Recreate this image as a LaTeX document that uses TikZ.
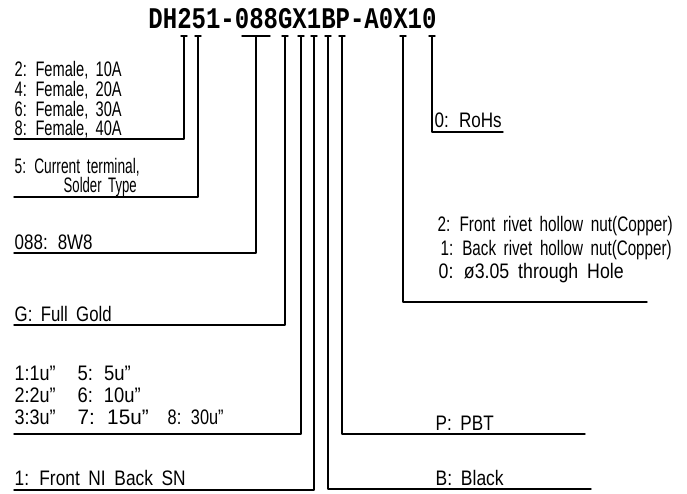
\documentclass[tikz,border=0pt]{standalone}
\usepackage{fontspec}
\usepackage{graphicx}
\newfontfamily\labelfont[FakeStretch=0.7,WordSpace=1.8]{Liberation Sans}
\newfontfamily\codefont[FakeStretch=0.8]{Liberation Mono}
% text squeezed to the width that the drawing shows
\newcommand\fitw[2]{\resizebox{#1pt}{\height}{#2}}
\begin{document}
\begin{tikzpicture}[x=1pt, y=-1pt, line join=round, line cap=round, line width=1.4pt,
  lbl/.style={anchor=base west, inner sep=0pt, font=\labelfont\fontsize{21}{24}\selectfont},
  code/.style={inner sep=0pt, font=\codefont\bfseries\fontsize{30}{30}\selectfont}]
\useasboundingbox (0,0) rectangle (687,494);
\def\tickY{36}
\node[code] (pn) at (292.5,19) {DH251-088GX1BP-A0X10};
\path
(184,\tickY) coordinate (T1)
(198,\tickY) coordinate (T2)
(256,\tickY) coordinate (T3)
(285,\tickY) coordinate (T4)
(301,\tickY) coordinate (T5)
(314,\tickY) coordinate (T6)
(328,\tickY) coordinate (T7)
(342,\tickY) coordinate (T8)
(403,\tickY) coordinate (T9)
(432,\tickY) coordinate (T10)
(14,139) coordinate (L1)
(14,197) coordinate (L2)
(14,253) coordinate (L3)
(14,325) coordinate (L4)
(14,434) coordinate (L5)
(14,490) coordinate (L6)
(591,489) coordinate (R7)
(585,434) coordinate (R8)
(647,302) coordinate (R9)
(503,132) coordinate (R10)
;
% small bars on top of the ticks
\foreach \t in {T1,T2,T4,T5,T6,T7,T8,T9,T10}
  \draw ([xshift=-3pt]\t) -- ([xshift=3pt]\t);
\draw ([xshift=-14pt]T3) -- ([xshift=14pt]T3);
% leaders to the left
\foreach \t/\l in {T1/L1,T2/L2,T3/L3,T4/L4,T5/L5,T6/L6}
  \draw (\t) -- (\t |- \l) -- (\l);
% leaders to the right
\foreach \t/\r in {T7/R7,T8/R8,T9/R9,T10/R10}
  \draw (\t) -- (\t |- \r) -- (\r);
% texts
\node[lbl] (c2) at (14,77) {\fitw{107}{2: Female, 10A}};
\node[lbl] (c4) at (14,97) {\fitw{107}{4: Female, 20A}};
\node[lbl] (c6) at (14,117) {\fitw{107}{6: Female, 30A}};
\node[lbl] (c8) at (14,136) {\fitw{107}{8: Female, 40A}};
\node[lbl] (ct) at (14,174) {\fitw{125}{5: Current terminal,}};
\node[lbl] (st) at (63,193) {\fitw{73}{Solder Type}};
\node[lbl] (pins) at (14,249) {\fitw{78}{088: 8W8}};
\node[lbl] (gold) at (14,321) {\fitw{97}{G: Full Gold}};
\node[lbl] (p1) at (14,380) {\fitw{41}{1:1u”}};
\node[lbl] (p2) at (14,402) {\fitw{41}{2:2u”}};
\node[lbl] (p3) at (14,424) {\fitw{41}{3:3u”}};
\node[lbl] (p5) at (77,380) {\fitw{53}{5: 5u”}};
\node[lbl] (p6) at (77,402) {\fitw{63}{6: 10u”}};
\node[lbl] (p7) at (77,424) {\fitw{71}{7: 15u”}};
\node[lbl] (p8) at (167,424) {\fitw{56}{8: 30u”}};
\node[lbl] (sn) at (14,485) {\fitw{171}{1: Front NI Back SN}};
\node[lbl] (blk) at (435,485) {\fitw{68}{B: Black}};
\node[lbl] (pbt) at (435,430) {\fitw{58}{P: PBT}};
\node[lbl] (r2) at (437,232) {\fitw{235}{2: Front rivet hollow nut(Copper)}};
\node[lbl] (r1) at (440,255) {\fitw{231}{1: Back rivet hollow nut(Copper)}};
\node[lbl] (r0) at (438,278) {\fitw{185}{0: ø3.05 through Hole}};
\node[lbl] (rohs) at (434,128) {\fitw{67}{0: RoHs}};
\end{tikzpicture}
\end{document}
